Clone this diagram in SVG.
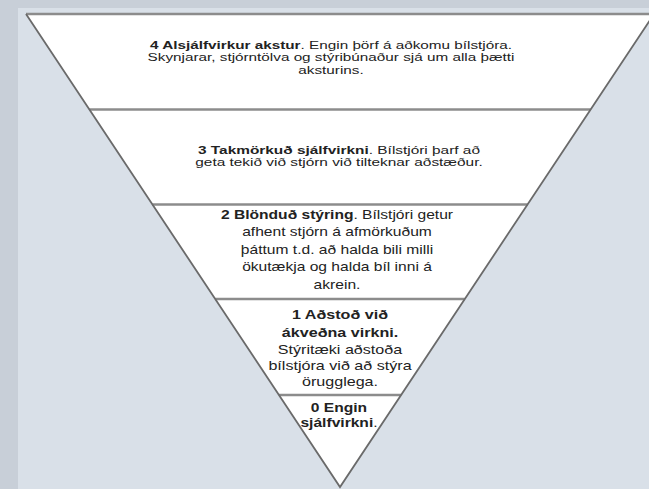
<svg xmlns="http://www.w3.org/2000/svg" width="649" height="489" viewBox="0 0 649 489">
<style>
.band{fill:#ffffff;stroke:none}
.sep{stroke:#8c8c8c;stroke-width:2.6;fill:none}
.edge{stroke:#6a6a6a;stroke-width:1.8;fill:none;stroke-linejoin:miter}
.t{font-family:"Liberation Sans",Arial,sans-serif;font-size:13px;fill:#222;text-anchor:middle}
.s{font-size:11.5px}
.b{font-weight:bold}
</style>
<rect x="0" y="0" width="649" height="489" fill="#c8cfd8"/>
<rect x="18" y="8" width="631" height="481" fill="#d9e0e8"/>
<g id="level4">
<polygon class="band" points="26,14 654,14 590.7,109.5 89.3,109.5"/>
<g transform="translate(331,0) scale(1.33,1)">
<text class="t s" x="0" y="49"><tspan class="b">4 Alsjálfvirkur akstur</tspan>. Engin þörf á aðkomu bílstjóra.</text>
<text class="t s" x="0" y="61.5">Skynjarar, stjórntölva og stýribúnaður sjá um alla þætti</text>
<text class="t s" x="0" y="74">aksturins.</text>
</g>
</g>
<g id="level3">
<polygon class="band" points="89.3,109.5 590.7,109.5 527.6,204.5 152.4,204.5"/>
<g transform="translate(339,0) scale(1.34,1)">
<text class="t s" x="0" y="154"><tspan class="b">3 Takmörkuð sjálfvirkni</tspan>. Bílstjóri þarf að</text>
<text class="t s" x="0" y="166.5">geta tekið við stjórn við tilteknar aðstæður.</text>
</g>
</g>
<g id="level2">
<polygon class="band" points="152.4,204.5 527.6,204.5 464.8,299 215.2,299"/>
<g transform="translate(337,0) scale(1.2,1)">
<text class="t" x="0" y="219"><tspan class="b">2 Blönduð stýring</tspan>. Bílstjóri getur</text>
<text class="t" x="0" y="236">afhent stjórn á afmörkuðum</text>
<text class="t" x="0" y="254">þáttum t.d. að halda bili milli</text>
<text class="t" x="0" y="271">ökutækja og halda bíl inni á</text>
<text class="t" x="0" y="289">akrein.</text>
</g>
</g>
<g id="level1">
<polygon class="band" points="215.2,299 464.8,299 401.1,395 278.9,395"/>
<g transform="translate(340,0) scale(1.24,1)">
<text class="t b" x="0" y="319">1 Aðstoð við</text>
<text class="t b" x="0" y="337">ákveðna virkni.</text>
<text class="t" x="0" y="354">Stýritæki aðstoða</text>
<text class="t" x="0" y="370">bílstjóra við að stýra</text>
<text class="t" x="0" y="386">örugglega.</text>
</g>
</g>
<g id="level0">
<polygon class="band" points="278.9,395 401.1,395 340,487"/>
<g transform="translate(339,0) scale(1.2,1)">
<text class="t b" x="0" y="412">0 Engin</text>
<text class="t" x="0" y="427"><tspan class="b">sjálfvirkni</tspan>.</text>
</g>
</g>
<g id="connectors">
<line class="sep" x1="89.3" y1="109.5" x2="590.7" y2="109.5"/>
<line class="sep" x1="152.4" y1="204.5" x2="527.6" y2="204.5"/>
<line class="sep" x1="215.2" y1="299" x2="464.8" y2="299"/>
<line class="sep" x1="278.9" y1="395" x2="401.1" y2="395"/>
<line class="sep" x1="26" y1="14" x2="654" y2="14"/>
<polyline class="edge" points="26,14 340,487 654,14"/>
</g>
</svg>
